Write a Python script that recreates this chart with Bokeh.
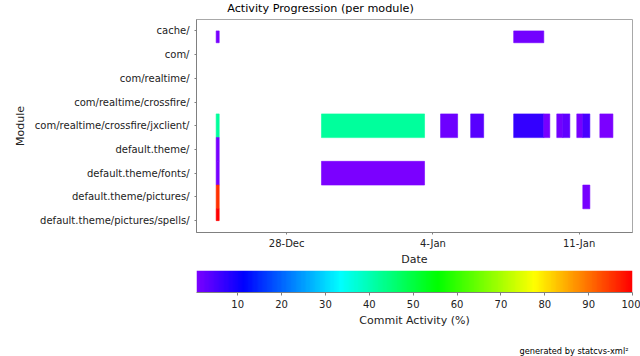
import colorsys
import numpy as np
import pandas as pd
from bokeh.plotting import figure
from bokeh.layouts import column
from bokeh.models import ColumnDataSource, Range1d, FixedTicker, LinearColorMapper, Label
from bokeh.transform import transform
from bokeh.embed import file_html
from bokeh.resources import INLINE

# ---------------- data ----------------
modules = ["cache/", "com/", "com/realtime/", "com/realtime/crossfire/",
           "com/realtime/crossfire/jxclient/", "default.theme/",
           "default.theme/fonts/", "default.theme/pictures/",
           "default.theme/pictures/spells/"]

bar_module = [0, 0,
              4, 4, 4, 4, 4, 4, 4, 4, 4, 4, 4,
              5,
              6, 6,
              7, 7,
              8]
bar_start = ["2005-12-24 15:00", "2006-01-07 20:50",
             "2005-12-24 15:00", "2005-12-29 16:00", "2006-01-04 08:50", "2006-01-05 19:25",
             "2006-01-07 20:50", "2006-01-09 07:25", "2006-01-09 22:20", "2006-01-10 05:15",
             "2006-01-10 21:20", "2006-01-11 04:15", "2006-01-11 23:50",
             "2005-12-24 15:00",
             "2005-12-24 15:00", "2005-12-29 16:00",
             "2005-12-24 15:00", "2006-01-11 04:15",
             "2005-12-24 15:00"]
bar_end = ["2005-12-24 18:30", "2006-01-09 07:25",
           "2005-12-24 18:30", "2006-01-03 14:25", "2006-01-05 04:25", "2006-01-06 10:20",
           "2006-01-09 07:25", "2006-01-09 14:20", "2006-01-10 05:15", "2006-01-10 13:20",
           "2006-01-11 04:15", "2006-01-11 12:20", "2006-01-12 14:50",
           "2005-12-24 18:30",
           "2005-12-24 18:30", "2006-01-03 14:25",
           "2005-12-24 18:30", "2006-01-11 12:20",
           "2005-12-24 18:30"]
bar_activity = [1.0, 1.5,
                42.0, 42.0, 1.8, 3.7, 6.7, 1.0, 1.3, 2.8, 1.0, 4.7, 0.7,
                1.0,
                1.0, 0.7,
                95.6, 1.0,
                100.0]

date_ticks = ["2005-12-28", "2006-01-04", "2006-01-11"]
date_tick_labels = ["28-Dec", "4-Jan", "11-Jan"]
date_start = "2005-12-23 16:25"
date_end = "2006-01-13 13:20"

activity_ticks = [10, 20, 30, 40, 50, 60, 70, 80, 90, 100]
activity_min = 0.6
activity_max = 100

title_text = "Activity Progression (per module)"
footer_text = "generated by statcvs-xml²"

# ---------------- styling helpers ----------------
FONT = "DejaVu Sans"
TXT = "#222222"
LEFT = 196
RIGHT = 8
palette = []
for i in range(256):
    h = (270.0 * (1 - i / 255.0)) / 360.0
    r, g, b = colorsys.hsv_to_rgb(h, 1.0, 1.0)
    palette.append("#%02x%02x%02x" % (int(round(r * 255)), int(round(g * 255)), int(round(b * 255))))
mapper = LinearColorMapper(palette=palette, low=0, high=100)


def ms(s):
    return pd.Timestamp(s).value / 1e6


def text_strip(height, text, x, y, align, size):
    f = figure(width=640, height=height, x_axis_location=None, y_axis_location=None,
               x_range=Range1d(0, 1), y_range=Range1d(0, 1),
               output_backend="svg", toolbar_location=None,
               min_border_left=LEFT, min_border_right=RIGHT, min_border_top=0, min_border_bottom=0)
    f.grid.visible = False
    f.outline_line_color = None
    f.add_layout(Label(x=x, y=y, x_units="screen", y_units="screen", text=text,
                       text_align=align, text_baseline="alphabetic", text_font=FONT,
                       text_font_size=size, text_color="black"))
    return f


n = len(modules)
idx = np.array(bar_module, dtype=float)
src = ColumnDataSource(dict(
    left=[ms(s) for s in bar_start],
    right=[ms(s) for s in bar_end],
    top=np.maximum(idx - 0.5, 0),
    bottom=np.minimum(idx + 0.5, n - 1),
    activity=bar_activity,
))

# ---------------- title ----------------
head = text_strip(18, title_text, 124, 9.7, "center", "11.2px")

# ---------------- main chart ----------------
p = figure(width=640, height=251, x_axis_type="datetime",
           x_range=Range1d(ms(date_start), ms(date_end)),
           y_range=Range1d(n - 1 + 0.5, -0.48),
           output_backend="svg", toolbar_location=None,
           min_border_left=LEFT, min_border_right=RIGHT, min_border_top=1, min_border_bottom=37)
p.xgrid.visible = False
p.ygrid.visible = False
p.outline_line_color = "#a8a8a8"

fill = transform("activity", mapper)
p.quad(left="left", right="right", top="top", bottom="bottom",
       fill_color=fill, line_color=fill, line_width=0.6, source=src)

xa = p.xaxis[0]
xa.ticker = FixedTicker(ticks=[ms(t) for t in date_ticks])
xa.major_label_overrides = {ms(t): l for t, l in zip(date_ticks, date_tick_labels)}
ya = p.yaxis[0]
ya.ticker = FixedTicker(ticks=list(range(n)))
ya.major_label_overrides = {i: m for i, m in enumerate(modules)}
xa.axis_label = "Date"
ya.axis_label = "Module"
for ax in (xa, ya):
    ax.axis_line_color = "#808080"
    ax.major_tick_line_color = "#808080"
    ax.major_tick_out = 2
    ax.major_tick_in = 0
    ax.minor_tick_line_color = None
    ax.major_label_text_font = FONT
    ax.major_label_text_font_size = "10px"
    ax.major_label_text_color = TXT
    ax.axis_label_text_font = FONT
    ax.axis_label_text_font_size = "11px"
    ax.axis_label_text_font_style = "normal"
    ax.axis_label_text_color = TXT
xa.major_label_standoff = 3
xa.axis_label_standoff = 1
ya.major_label_standoff = 5
ya.axis_label_standoff = 5

# ---------------- colour scale ----------------
cb = figure(width=640, height=67, x_range=Range1d(activity_min, activity_max),
            y_range=Range1d(0, 1), y_axis_location=None,
            output_backend="svg", toolbar_location=None,
            min_border_left=LEFT, min_border_right=RIGHT, min_border_top=1, min_border_bottom=44)
cb.xgrid.visible = False
cb.ygrid.visible = False
cb.outline_line_color = None
grad = np.linspace(activity_min, activity_max, 600).reshape(1, -1)
cb.image(image=[grad], x=activity_min, y=0, dw=activity_max - activity_min, dh=1,
         color_mapper=mapper)
ca = cb.xaxis[0]
ca.ticker = FixedTicker(ticks=activity_ticks)
ca.axis_label = "Commit Activity (%)"
ca.axis_line_color = "#808080"
ca.major_tick_line_color = "#808080"
ca.major_tick_out = 3
ca.major_tick_in = 0
ca.minor_tick_line_color = None
ca.major_label_text_font = FONT
ca.major_label_text_font_size = "10px"
ca.major_label_text_color = TXT
ca.major_label_standoff = 4
ca.axis_label_text_font = FONT
ca.axis_label_text_font_size = "11px"
ca.axis_label_text_font_style = "normal"
ca.axis_label_text_color = TXT
ca.axis_label_standoff = 3

# ---------------- footer ----------------
foot = text_strip(20, footer_text, 432, 5.5, "right", "8.25px")

layout = column(head, p, cb, foot, spacing=0)
open("out.html", "w").write(file_html(layout, INLINE))
